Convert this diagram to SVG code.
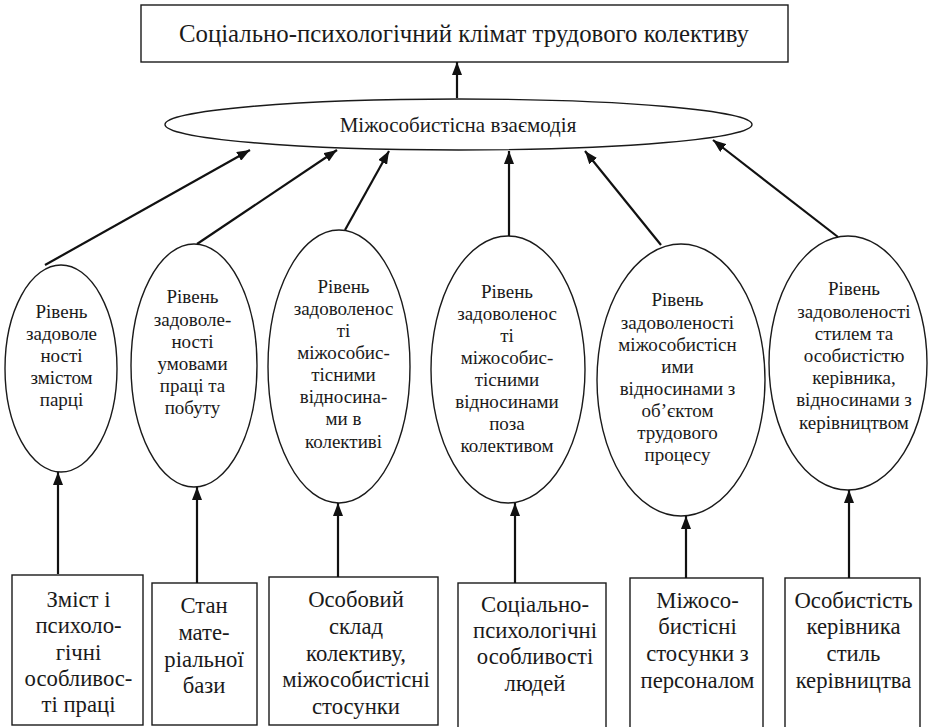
<svg xmlns="http://www.w3.org/2000/svg" width="934" height="727" viewBox="0 0 934 727">
<defs>
<marker id="ah" viewBox="0 0 13 10" refX="13" refY="5" markerWidth="13" markerHeight="10" markerUnits="userSpaceOnUse" orient="auto">
<path d="M0,0 L13,5 L0,10 Z" fill="#111"/>
</marker>
<style>
.sh{fill:#fff;stroke:#1a1a1a;stroke-width:1.4}
text{font-family:'Liberation Serif','Times New Roman',serif;fill:#1a1a1a;text-anchor:middle}
.s{font-size:19px}
.b{font-size:22.7px}
.c line{stroke:#111;stroke-width:2.2;marker-end:url(#ah)}
</style>
</defs>
<rect width="934" height="727" fill="#fff"/>
<g id="top">
<rect class="sh" x="141" y="5" width="647" height="57"/>
<text x="464" y="42" font-size="24.8">Соціально-психологічний клімат трудового колективу</text>
</g>
<g id="interaction">
<ellipse class="sh" cx="458.5" cy="124.5" rx="293.5" ry="25.5"/>
<text x="458" y="132" font-size="21">Міжособистісна взаємодія</text>
</g>
<g id="e1">
<ellipse class="sh" cx="61" cy="368.5" rx="56" ry="103.5"/>
<text class="s" x="61.5" y="318">Рівень</text>
<text class="s" x="61.5" y="340">задоволе</text>
<text class="s" x="61.5" y="362">ності</text>
<text class="s" x="61.5" y="384">змістом</text>
<text class="s" x="61.5" y="406">парці</text>
</g>
<g id="e2">
<ellipse class="sh" cx="194" cy="365.5" rx="63" ry="121.5"/>
<text class="s" x="192.5" y="303">Рівень</text>
<text class="s" x="192.5" y="326">задоволе-</text>
<text class="s" x="192.5" y="348">ності</text>
<text class="s" x="192.5" y="370">умовами</text>
<text class="s" x="192.5" y="392">праці та</text>
<text class="s" x="192.5" y="414">побуту</text>
</g>
<g id="e3">
<ellipse class="sh" cx="339" cy="366.5" rx="71" ry="136.5"/>
<text class="s" x="343.5" y="293">Рівень</text>
<text class="s" x="343.5" y="315">задоволенос</text>
<text class="s" x="343.5" y="337">ті</text>
<text class="s" x="343.5" y="359">міжособис-</text>
<text class="s" x="343.5" y="381">тісними</text>
<text class="s" x="343.5" y="403">відносина-</text>
<text class="s" x="343.5" y="425">ми в</text>
<text class="s" x="343.5" y="448">колективі</text>
</g>
<g id="e4">
<ellipse class="sh" cx="508" cy="369.5" rx="77" ry="133.5"/>
<text class="s" x="507" y="298">Рівень</text>
<text class="s" x="507" y="320">задоволенос</text>
<text class="s" x="507" y="342">ті</text>
<text class="s" x="507" y="364">міжособис-</text>
<text class="s" x="507" y="386">тісними</text>
<text class="s" x="507" y="408">відносинами</text>
<text class="s" x="507" y="430">поза</text>
<text class="s" x="507" y="452">колективом</text>
</g>
<g id="e5">
<ellipse class="sh" cx="681" cy="380" rx="84" ry="136"/>
<text class="s" x="677.5" y="306">Рівень</text>
<text class="s" x="677.5" y="329">задоволеності</text>
<text class="s" x="677.5" y="351">міжособистісн</text>
<text class="s" x="677.5" y="373">ими</text>
<text class="s" x="677.5" y="395">відносинами з</text>
<text class="s" x="677.5" y="417">об’єктом</text>
<text class="s" x="677.5" y="439">трудового</text>
<text class="s" x="677.5" y="461">процесу</text>
</g>
<g id="e6">
<ellipse class="sh" cx="848" cy="363" rx="79" ry="127"/>
<text class="s" x="854" y="295">Рівень</text>
<text class="s" x="854" y="318">задоволеності</text>
<text class="s" x="854" y="340">стилем та</text>
<text class="s" x="854" y="362">особистістю</text>
<text class="s" x="854" y="384">керівника,</text>
<text class="s" x="854" y="406">відносинами з</text>
<text class="s" x="854" y="429">керівництвом</text>
</g>
<g id="b1">
<rect class="sh" x="12" y="575" width="131" height="150"/>
<text class="b" x="78.5" y="607">Зміст і</text>
<text class="b" x="78.5" y="633">психоло-</text>
<text class="b" x="78.5" y="660">гічні</text>
<text class="b" x="78.5" y="686">особливос-</text>
<text class="b" x="78.5" y="712">ті праці</text>
</g>
<g id="b2">
<rect class="sh" x="152" y="583" width="105" height="142"/>
<text class="b" x="204" y="613">Стан</text>
<text class="b" x="204" y="640">мате-</text>
<text class="b" x="204" y="667">ріальної</text>
<text class="b" x="204" y="693">бази</text>
</g>
<g id="b3">
<rect class="sh" x="269" y="577" width="169" height="148"/>
<text class="b" x="356" y="607">Особовий</text>
<text class="b" x="356" y="634">склад</text>
<text class="b" x="356" y="661">колективу,</text>
<text class="b" x="356" y="687">міжособистісні</text>
<text class="b" x="356" y="714">стосунки</text>
</g>
<g id="b4">
<rect class="sh" x="458" y="583" width="148" height="150"/>
<text class="b" x="535" y="612">Соціально-</text>
<text class="b" x="535" y="638">психологічні</text>
<text class="b" x="535" y="664">особливості</text>
<text class="b" x="535" y="691">людей</text>
</g>
<g id="b5">
<rect class="sh" x="630" y="578" width="133" height="155"/>
<text class="b" x="697.5" y="608">Міжосо-</text>
<text class="b" x="697.5" y="634">бистісні</text>
<text class="b" x="697.5" y="661">стосунки з</text>
<text class="b" x="697.5" y="688">персоналом</text>
</g>
<g id="b6">
<rect class="sh" x="785" y="578" width="135" height="155"/>
<text class="b" x="853.5" y="608">Особистість</text>
<text class="b" x="853.5" y="634">керівника</text>
<text class="b" x="853.5" y="661">стиль</text>
<text class="b" x="853.5" y="688">керівництва</text>
</g>
<g id="connectors" class="c">
<line x1="457" y1="98" x2="457" y2="62"/>
<line x1="45" y1="265" x2="250" y2="150"/>
<line x1="197" y1="244" x2="337" y2="150"/>
<line x1="345" y1="230" x2="389" y2="151"/>
<line x1="509" y1="236" x2="509" y2="151"/>
<line x1="661" y1="245" x2="585" y2="151"/>
<line x1="838" y1="237" x2="713" y2="140"/>
<line x1="58" y1="574" x2="58" y2="472"/>
<line x1="197" y1="583" x2="197" y2="487"/>
<line x1="338" y1="577" x2="338" y2="503"/>
<line x1="515" y1="583" x2="515" y2="503"/>
<line x1="686" y1="578" x2="686" y2="516"/>
<line x1="849" y1="578" x2="849" y2="490"/>
</g>
</svg>
